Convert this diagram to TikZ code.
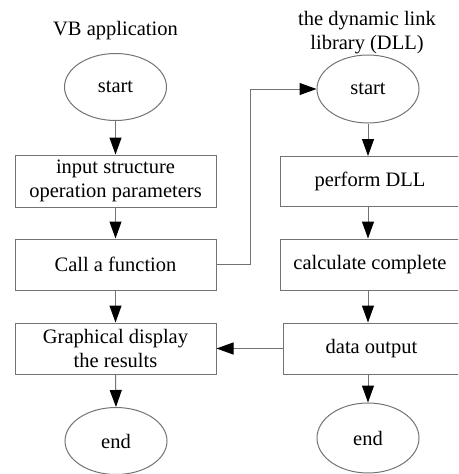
\documentclass[tikz,border=0pt]{standalone}
\usepackage{fontspec}
\setmainfont{Liberation Serif}
\usetikzlibrary{shapes.geometric,arrows.meta,calc}
\definecolor{linegray}{RGB}{115,115,115}
\begin{document}
\begin{tikzpicture}[x=1pt,y=-1pt,
  txt/.style={font=\fontsize{20.5}{24}\selectfont, align=center, text=black},
  oval/.style={txt, ellipse, draw=linegray, line width=1pt, minimum width=102pt, minimum height=67pt, inner sep=0pt},
  boxL/.style={txt, rectangle, draw=linegray, line width=1pt, minimum width=201pt, minimum height=51pt, inner sep=0pt},
  boxR/.style={txt, rectangle, draw=linegray, line width=1pt, minimum width=180pt, minimum height=51pt, inner sep=0pt},
  flow/.style={draw=linegray, line width=1pt, -{Triangle[length=17pt,width=12pt,fill=black,color=black]}}
]
\useasboundingbox (0,0) rectangle (458,474);
\clip (0,0) rectangle (458,474);
% titles
\node[txt] (tL) at (115.5,31) {VB application};
\node[txt] (tR) at (367,33) {the dynamic link\\library (DLL)};
% left column
\node[oval] (sL) at (115.5,87) {start};
\node[boxL, minimum height=52pt] (b1) at (115.5,181) {input structure\\operation parameters};
\node[boxL] (b2) at (115.5,264.5) {Call a function};
\node[boxL] (b3) at (115.5,348.5) {Graphical display\\the results};
\node[oval] (eL) at (116,441) {end};
% right column
\node[oval, minimum height=68pt] (sR) at (368,89) {start};
\node[boxR, minimum height=50pt] (r1) at (370,181.5) {perform DLL};
\node[boxR] (r2) at (370,264.5) {calculate complete};
\node[boxR, minimum width=177pt] (r3) at (371.5,348.5) {data output};
\node[oval, minimum height=70pt] (eR) at (368,438) {end};
% connectors left
\draw[flow] (sL.south) -- (b1.north);
\draw[flow] (b1.south) -- (b2.north);
\draw[flow] (b2.south) -- (b3.north);
\draw[flow] (b3.south) -- (eL.north);
% connectors right
\draw[flow] (sR.south) -- (sR.south |- r1.north);
\draw[flow] (sR.south |- r1.south) -- (sR.south |- r2.north);
\draw[flow] (sR.south |- r2.south) -- (sR.south |- r3.north);
\draw[flow] (sR.south |- r3.south) -- (eR.north);
% cross connectors
\draw[flow] (b2.east) -- ++(34,0) |- (sR.west);
\draw[flow] (r3.west) -- (b3.east);
\end{tikzpicture}
\end{document}
